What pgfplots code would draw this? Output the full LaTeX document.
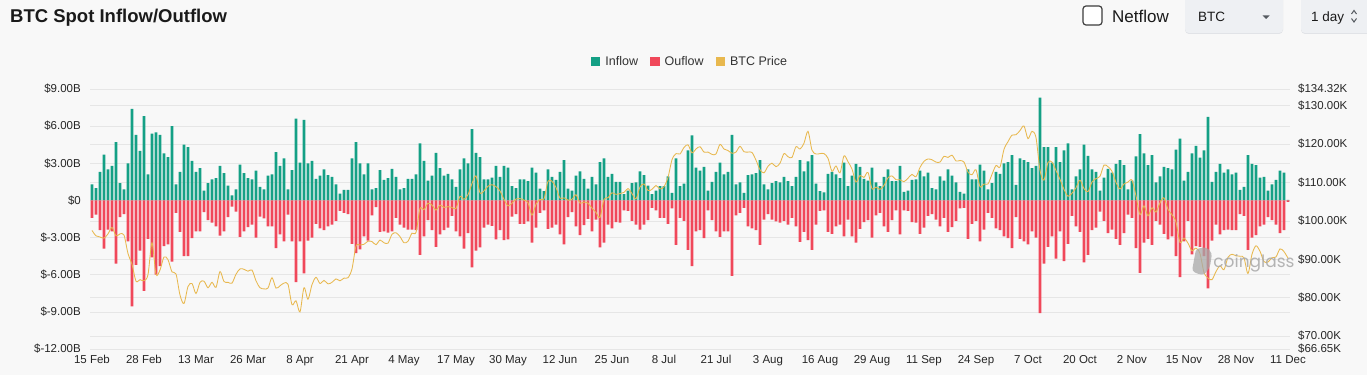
\documentclass[border=0pt]{standalone}
\usepackage{pgfplots}
\pgfplotsset{compat=1.18}
\usepackage{pgfplotstable}
\usepackage{fontspec}
\setmainfont{Liberation Sans}
\newfontfamily\wmfont{Poppins}
\definecolor{incol}{HTML}{14A085}
\definecolor{outcol}{HTML}{F0485A}
\definecolor{pricecol}{HTML}{E8B84E}
\definecolor{bgcol}{HTML}{F8F8F8}
\definecolor{gridcol}{HTML}{E6E6E6}
\definecolor{labcol}{HTML}{262626}
\definecolor{legcol}{HTML}{333333}
\definecolor{titlecol}{HTML}{1A1A1A}
\definecolor{boxborder}{HTML}{3C3C3C}
\definecolor{boxcol}{HTML}{EEF0F3}
\definecolor{shadowcol}{HTML}{E1E3E7}
\definecolor{caretcol}{HTML}{555A60}
\definecolor{wmcol}{HTML}{A8A8A8}

\pgfplotstableread{
in out p
1.3 -1.4 97.5
1.0 -1.15 96.1
2.3 -2.4 95.8
3.7 -3.9 95.5
2.5 -2.35 96.6
2.8 -2.5 98.3
4.7 -5.1 96.1
1.4 -1.35 96.6
0.9 -1.1 96.3
3.0 -3.3 91.5
7.4 -8.55 88.7
5.3 -5.2 84.3
4.0 -4.05 84.7
6.8 -7.3 84.4
2.1 -3.1 86.0
5.4 -4.6 94.3
5.5 -6.0 86.1
5.3 -5.3 87.2
3.8 -3.7 90.6
3.5 -3.55 89.9
6.0 -4.95 86.7
1.3 -1.0 86.2
2.3 -2.55 80.7
4.5 -4.5 78.5
4.3 -4.5 82.9
3.2 -3.05 83.7
2.3 -2.5 81.1
2.6 -2.5 84.0
0.8 -0.95 84.3
1.4 -1.6 82.6
1.7 -1.8 84.0
1.8 -2.1 82.7
2.8 -2.85 86.8
2.2 -2.5 84.2
1.2 -1.35 84.0
0.4 -0.5 83.8
0.9 -0.9 86.1
2.9 -2.95 87.5
2.2 -2.5 87.4
1.8 -2.15 86.9
1.7 -1.95 87.2
2.4 -3.0 84.4
1.1 -1.3 82.6
0.9 -1.45 82.3
2.0 -2.1 82.5
2.1 -2.1 85.2
3.9 -3.85 82.5
2.8 -2.75 83.1
3.4 -3.3 83.8
0.9 -1.15 83.5
2.45 -3.3 78.2
6.6 -6.6 79.2
3.05 -3.3 76.3
6.5 -5.9 82.6
3.0 -3.25 79.6
3.2 -3.0 83.4
1.75 -1.9 85.3
2.0 -2.25 83.7
2.5 -2.4 84.5
2.05 -2.1 83.6
1.9 -1.95 84.0
1.3 -1.65 84.9
0.55 -0.85 84.4
0.85 -1.0 85.1
0.85 -1.1 85.2
3.4 -3.5 87.5
4.7 -4.25 93.4
3.0 -3.95 93.7
2.1 -2.9 93.9
3.0 -3.25 94.7
0.9 -1.2 94.6
1.0 -0.55 93.8
2.45 -2.55 95.0
1.65 -2.5 94.3
1.8 -2.6 94.2
2.55 -2.5 96.5
1.9 -1.4 96.9
0.9 -1.95 95.9
1.0 -2.2 94.3
1.75 -2.35 94.7
1.75 -2.35 96.8
2.1 -2.4 97.0
4.6 -4.4 103.2
3.2 -2.9 102.9
1.6 -1.6 104.6
2.0 -2.4 104.1
3.85 -3.75 102.8
2.6 -2.75 104.1
2.0 -2.4 103.5
2.15 -2.2 103.7
1.7 -1.25 103.5
1.1 -2.5 103.2
2.5 -2.9 106.4
3.4 -3.9 105.6
3.0 -2.65 106.8
5.75 -5.4 109.7
3.85 -4.05 111.7
3.5 -3.8 107.3
1.7 -2.2 107.8
1.7 -1.95 109.0
1.85 -2.05 109.4
2.8 -3.15 108.9
1.9 -2.4 107.8
2.8 -3.2 105.6
2.65 -3.15 103.9
1.15 -1.3 104.6
1.0 -1.1 105.7
1.7 -1.9 105.8
1.7 -1.9 105.4
1.55 -1.7 104.7
2.65 -3.4 101.5
2.25 -2.2 104.3
0.95 -1.0 105.6
0.75 -0.8 105.7
2.5 -2.3 110.3
1.9 -2.2 110.3
1.65 -1.95 108.7
2.3 -2.75 105.9
3.25 -3.55 106.0
0.95 -1.35 105.4
0.8 -0.95 105.6
2.0 -2.1 106.8
2.35 -2.8 104.6
1.75 -2.0 104.9
0.95 -1.5 104.6
1.9 -2.5 103.3
1.3 -1.55 102.2
3.1 -3.8 100.9
3.4 -3.4 105.6
1.9 -1.95 106.0
2.15 -2.25 107.3
1.5 -1.75 106.9
1.5 -1.8 107.1
0.5 -0.8 107.4
0.8 -0.85 108.4
1.4 -1.65 107.1
1.45 -1.95 105.7
2.35 -2.35 108.8
2.05 -1.95 109.6
1.2 -1.6 107.9
0.5 -0.6 108.2
0.8 -0.8 109.2
1.15 -1.4 108.3
1.15 -1.4 108.9
1.95 -1.9 111.3
0.6 -0.65 115.9
3.4 -3.6 117.5
1.15 -1.4 117.4
1.35 -1.65 119.1
4.05 -4.0 119.8
5.25 -5.3 117.7
2.65 -2.5 118.7
2.4 -2.4 119.3
2.7 -3.05 117.9
0.8 -0.8 117.9
1.5 -1.6 117.3
2.3 -2.5 117.4
3.05 -2.95 119.9
2.1 -2.5 118.7
2.3 -2.5 118.3
5.3 -6.1 117.6
1.3 -1.2 117.9
1.45 -1.0 119.4
0.6 -0.6 118.0
2.05 -2.1 117.9
2.1 -2.25 117.8
2.2 -2.4 115.8
3.25 -3.6 113.3
1.3 -1.55 112.5
0.9 -1.1 114.2
1.4 -1.55 115.0
1.55 -1.7 114.1
1.45 -1.8 115.0
1.9 -1.65 117.5
1.55 -1.95 116.7
1.15 -1.4 116.5
1.9 -2.1 119.3
3.25 -3.35 118.7
2.35 -2.55 120.2
3.15 -3.2 123.3
3.65 -4.0 118.4
1.35 -1.95 117.4
0.75 -0.85 117.5
0.65 -0.8 117.5
2.15 -2.55 116.3
2.3 -2.7 112.9
2.1 -2.1 114.3
1.8 -1.95 112.5
3.05 -2.9 116.9
1.15 -1.55 115.4
2.0 -2.9 113.5
2.95 -3.4 110.1
2.7 -2.3 111.8
1.75 -1.75 111.3
1.6 -1.6 112.6
2.65 -3.0 108.4
1.45 -1.2 108.8
1.15 -1.0 108.2
1.9 -2.1 109.2
2.5 -2.55 111.2
1.55 -1.6 111.7
1.55 -0.8 110.7
2.8 -2.75 110.7
0.7 -0.8 110.2
0.8 -0.85 111.1
1.65 -1.75 112.1
1.7 -1.8 111.5
2.4 -2.7 113.9
1.95 -2.2 115.5
2.25 -1.25 116.1
1.0 -1.1 115.9
0.9 -1.55 115.3
1.95 -2.1 115.3
1.6 -1.4 116.8
2.5 -2.55 116.5
2.0 -2.15 117.1
1.45 -1.65 115.6
0.7 -0.65 115.7
0.55 -0.6 115.3
2.5 -3.1 112.7
1.7 -1.9 112.0
1.7 -1.65 113.3
2.9 -3.3 108.9
2.4 -2.35 109.6
0.9 -1.0 109.6
1.4 -1.4 112.1
2.3 -2.25 114.4
2.15 -2.4 114.0
3.0 -2.9 118.6
3.1 -3.05 120.6
3.65 -3.85 122.3
1.25 -1.35 122.4
3.4 -3.1 123.5
3.25 -3.3 124.7
3.1 -3.55 121.4
2.6 -2.5 123.3
2.8 -3.0 121.7
8.3 -9.1 113.2
4.3 -5.1 110.6
4.3 -3.75 115.2
3.05 -2.9 115.3
4.3 -4.7 113.1
3.1 -2.5 110.8
4.05 -4.9 108.2
4.6 -3.5 106.4
0.9 -1.25 107.2
1.95 -2.1 108.6
2.5 -2.55 110.6
4.5 -5.0 108.4
3.6 -4.4 107.6
2.5 -2.4 110.1
2.3 -2.2 111.0
0.8 -0.9 111.6
1.85 -1.65 114.5
2.55 -2.65 114.1
2.25 -2.35 112.9
2.95 -3.1 110.0
3.25 -3.6 108.3
2.85 -2.65 109.6
0.9 -1.15 110.1
1.6 -1.4 110.6
3.55 -3.85 106.5
5.35 -5.85 101.6
3.8 -3.4 103.9
2.85 -3.1 101.3
3.65 -3.6 103.4
1.45 -1.65 102.3
1.95 -1.95 104.7
2.7 -2.7 106.0
2.6 -3.15 103.0
2.5 -2.9 101.6
4.1 -4.5 99.7
5.0 -6.2 94.4
1.6 -3.3 95.5
2.3 -1.65 94.2
3.8 -4.35 92.2
4.4 -3.7 92.9
3.45 -3.75 91.5
4.05 -4.5 86.6
6.75 -7.1 85.1
1.5 -3.25 84.7
2.3 -1.95 86.8
2.95 -2.75 88.3
2.25 -2.4 87.3
2.5 -2.35 90.5
2.1 -2.4 91.3
2.25 -2.4 90.9
0.85 -1.1 90.8
1.1 -1.25 90.4
3.65 -4.0 86.3
2.95 -3.0 91.3
2.85 -2.8 93.5
1.85 -2.1 92.1
1.9 -1.95 89.4
0.8 -1.35 89.3
1.3 -1.6 90.4
1.65 -1.95 90.6
2.4 -2.65 92.7
2.25 -2.4 92.0
0.05 -0.12 90.3
}\data

\begin{document}
\begin{tikzpicture}
\fill[bgcol] (0,0) rectangle (1367bp,375bp);

\begin{axis}[
  at={(90bp,26bp)}, anchor=south west,
  scale only axis, width=1200bp, height=260bp,
  xmin=-0.5, xmax=299.5, ymin=-12, ymax=9,
  axis line style={draw=none},
  major tick length=0pt,
  xtick={0,13,...,299},
  xticklabels={15 Feb,28 Feb,13 Mar,26 Mar,8 Apr,21 Apr,4 May,17 May,30 May,12 Jun,25 Jun,8 Jul,21 Jul,3 Aug,16 Aug,29 Aug,11 Sep,24 Sep,7 Oct,20 Oct,2 Nov,15 Nov,28 Nov,11 Dec},
  ytick={-12,-9,-6,-3,0,3,6,9},
  yticklabels={\$-12.00B,\$-9.00B,\$-6.00B,\$-3.00B,\$0,\$3.00B,\$6.00B,\$9.00B},
  extra y ticks={7.66,4.556,1.453,-1.650,-4.753,-7.857,-10.96},
  extra y tick labels={,,,,,,},
  extra y tick style={grid=major},
  ymajorgrids,
  major grid style={draw=gridcol, line width=0.7bp},
  tick label style={font=\fontsize{11.5bp}{13bp}\selectfont, text=labcol},
  xticklabel style={inner sep=0pt, yshift=-6bp, anchor=north},
  yticklabel style={inner sep=0pt, xshift=-9bp, anchor=east},
]
\addplot[ybar, bar width=2.8bp, bar shift=0pt, fill=incol, draw=none] table[x expr=\coordindex, y=in] {\data};
\addplot[ybar, bar width=2.8bp, bar shift=0pt, fill=outcol, draw=none] table[x expr=\coordindex, y=out] {\data};
\end{axis}

\begin{axis}[
  at={(90bp,26bp)}, anchor=south west,
  scale only axis, width=1200bp, height=260bp,
  xmin=-0.5, xmax=299.5, ymin=66.65, ymax=134.32,
  hide x axis,
  axis y line*=right,
  axis line style={draw=none},
  major tick length=0pt,
  ytick={66.65,70,80,90,100,110,120,130,134.32},
  yticklabels={\$66.65K,\$70.00K,\$80.00K,\$90.00K,\$100.00K,\$110.00K,\$120.00K,\$130.00K,\$134.32K},
  tick label style={font=\fontsize{11.5bp}{13bp}\selectfont, text=labcol},
  yticklabel style={inner sep=0pt, xshift=8bp, anchor=west},
  legend style={at={(0.5,1)}, anchor=center, yshift=27bp, draw=none, fill=none,
    legend columns=3, inner sep=0pt,
    font=\fontsize{12.5bp}{15bp}\selectfont,
    nodes={inner sep=2bp, text=legcol},
    /tikz/every odd column/.append style={column sep=3bp},
    /tikz/every even column/.append style={column sep=10bp}},
  legend image code/.code={\fill[#1] (0bp,-4.5bp) rectangle (9.5bp,5bp);},
]
\addlegendimage{fill=incol, draw=none}
\addlegendentry{Inflow}
\addlegendimage{fill=outcol, draw=none}
\addlegendentry{Ouflow}
\addlegendimage{fill=pricecol, draw=none}
\addlegendentry{BTC Price}
\addplot[pricecol, line width=0.85bp, smooth, mark=none, forget plot] table[x expr=\coordindex, y=p] {\data};
\end{axis}

\begin{scope}[x=1bp,y=1bp]
\fill[wmcol, opacity=0.75, rounded corners=3] (1192,104) -- (1196,126) -- (1206,128) -- (1212,122) -- (1210,108) -- (1204,100) -- (1198,101) -- cycle;
\node[anchor=center, inner sep=0, font=\wmfont\fontsize{17bp}{19bp}\selectfont, text=wmcol, opacity=0.85] at (1254,112) {coinglass};
\node[anchor=base west, inner sep=0, font=\fontsize{18.5bp}{20bp}\selectfont\bfseries, text=titlecol] at (10,352.5) {BTC Spot Inflow/Outflow};
\draw[draw=boxborder, line width=1.2, fill=white, rounded corners=3] (1083,350) rectangle (1102,369);
\node[anchor=base west, inner sep=0, font=\fontsize{17bp}{19bp}\selectfont, text=titlecol] at (1112,352.5) {Netflow};
\fill[shadowcol, rounded corners=4] (1185,341) rectangle (1283,380);
\fill[boxcol, rounded corners=4] (1185,342) rectangle (1283,380);
\node[anchor=base west, inner sep=0, font=\fontsize{13.5bp}{15bp}\selectfont, text=titlecol] at (1198,353.5) {BTC};
\fill[caretcol] (1262.5,359.5) -- (1269.5,359.5) -- (1266,356) -- cycle;
\fill[shadowcol, rounded corners=4] (1301,341) rectangle (1375,380);
\fill[boxcol, rounded corners=4] (1301,342) rectangle (1375,380);
\node[anchor=base west, inner sep=0, font=\fontsize{13.5bp}{15bp}\selectfont, text=titlecol] at (1311,353.5) {1 day};
\draw[caretcol, line width=1] (1351.5,361) -- (1354,364.5) -- (1356.5,361);
\draw[caretcol, line width=1] (1351.5,356.5) -- (1354,353) -- (1356.5,356.5);
\end{scope}

\pgfresetboundingbox
\useasboundingbox (0,0) rectangle (1367bp,375bp);
\end{tikzpicture}
\end{document}
